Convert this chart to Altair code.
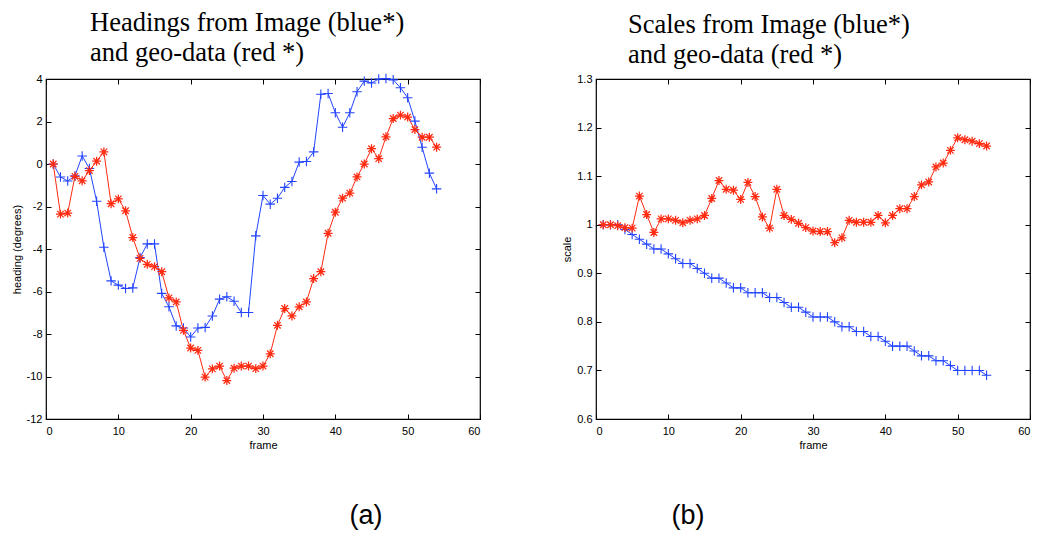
import altair as alt
import pandas as pd

frames = list(range(1, 55))

heading_image = [0.0, -0.61, -0.80, -0.56, 0.38, -0.21, -1.75, -3.92, -5.50, -5.70,
                 -5.86, -5.83, -4.40, -3.76, -3.76, -6.09, -6.72, -7.62, -7.72, -8.14,
                 -7.72, -7.69, -7.15, -6.36, -6.25, -6.46, -6.99, -6.99, -3.38, -1.48,
                 -1.89, -1.61, -1.10, -0.82, 0.09, 0.12, 0.57, 3.28, 3.32, 2.41,
                 1.73, 2.41, 3.40, 3.90, 3.81, 4.00, 4.02, 3.96, 3.59, 3.12,
                 2.02, 0.79, -0.43, -1.17]
heading_geo = [0.0, -2.36, -2.31, -0.58, -0.79, -0.31, 0.13, 0.57, -1.87, -1.64,
               -2.20, -3.46, -4.44, -4.72, -4.83, -5.07, -6.30, -6.49, -7.83, -8.66,
               -8.77, -10.03, -9.64, -9.51, -10.19, -9.61, -9.51, -9.51, -9.63, -9.51,
               -8.93, -7.59, -6.80, -7.15, -6.72, -6.49, -5.39, -5.07, -3.26, -2.27,
               -1.61, -1.37, -0.61, 0.0, 0.72, 0.25, 1.28, 2.14, 2.30, 2.21,
               1.62, 1.26, 1.26, 0.79]
scale_image = [1.00, 1.00, 1.00, 0.99, 0.98, 0.97, 0.96, 0.95, 0.95, 0.94,
               0.93, 0.92, 0.92, 0.91, 0.90, 0.89, 0.89, 0.88, 0.87, 0.87,
               0.86, 0.86, 0.86, 0.85, 0.85, 0.84, 0.83, 0.83, 0.82, 0.81,
               0.81, 0.81, 0.80, 0.79, 0.79, 0.78, 0.78, 0.77, 0.77, 0.76,
               0.75, 0.75, 0.75, 0.74, 0.73, 0.73, 0.72, 0.72, 0.71, 0.70,
               0.70, 0.70, 0.70, 0.69]
scale_geo = [1.000, 1.000, 0.998, 0.994, 0.993, 1.059, 1.021, 0.984, 1.012, 1.012,
             1.009, 1.004, 1.009, 1.012, 1.019, 1.054, 1.091, 1.073, 1.071, 1.052,
             1.087, 1.058, 1.016, 0.993, 1.073, 1.019, 1.011, 1.003, 0.994, 0.987,
             0.986, 0.986, 0.963, 0.973, 1.009, 1.005, 1.005, 1.005, 1.019, 1.004,
             1.019, 1.033, 1.033, 1.058, 1.082, 1.088, 1.119, 1.127, 1.153, 1.179,
             1.175, 1.172, 1.167, 1.162]

x_ticks = [0, 10, 20, 30, 40, 50, 60]
heading_ticks = [-12, -10, -8, -6, -4, -2, 0, 2, 4]
scale_ticks = [0.6, 0.7, 0.8, 0.9, 1.0, 1.1, 1.2, 1.3]

title_a = ["Headings from Image (blue*)", "and geo-data (red *)"]
title_b = ["Scales from Image (blue*)", "and geo-data (red *)"]

BLUE = "#2244ff"
RED = "#ff2a10"
PLUS = "M-1,0L1,0M0,-1L0,1"
STAR = "M-1,0L1,0M0,-1L0,1M-0.72,-0.72L0.72,0.72M-0.72,0.72L0.72,-0.72"

W, H = 434, 340


def panel(image_vals, geo_vals, ydomain, yticks, ytitle, title_lines, title_dx,
          tag, tag_x, label_expr):
    df = pd.DataFrame({"frame": frames, "image": image_vals, "geo": geo_vals})
    xs = alt.Scale(domain=[0, 60], nice=False, zero=False)
    ys = alt.Scale(domain=ydomain, nice=False, zero=False)

    x_main = alt.X("frame:Q", scale=xs,
                   axis=alt.Axis(orient="bottom", values=x_ticks, offset=-5, tickSize=5,
                                 domain=False, grid=False, labelPadding=6,
                                 title="frame", titlePadding=3))

    def y_main(field):
        return alt.Y(f"{field}:Q", scale=ys,
                     axis=alt.Axis(orient="left", values=yticks, offset=-5, tickSize=5,
                                   domain=False, grid=False, labelPadding=4,
                                   labelExpr=label_expr,
                                   title=ytitle, titlePadding=4))

    base = alt.Chart(df)
    blue_line = base.mark_line(color=BLUE, strokeWidth=1).encode(x=x_main, y=y_main("image"))
    blue_pts = base.mark_point(shape=PLUS, size=90, color=BLUE, strokeWidth=1.1,
                               filled=False, opacity=1).encode(x=x_main, y=y_main("image"))
    red_line = base.mark_line(color=RED, strokeWidth=1).encode(x=x_main, y=y_main("geo"))
    red_pts = base.mark_point(shape=STAR, size=80, color=RED, strokeWidth=1.25,
                              filled=False, opacity=1).encode(x=x_main, y=y_main("geo"))
    tag_layer = alt.Chart(pd.DataFrame({"t": [tag]})).mark_text(
        font="Liberation Sans", fontSize=27, align="center", baseline="middle",
        color="black").encode(x=alt.value(tag_x), y=alt.value(437), text="t:N")

    main = alt.layer(blue_line, red_line, blue_pts, red_pts, tag_layer)

    ticks = base.mark_point(opacity=0).encode(
        x=alt.X("frame:Q", scale=xs,
                axis=alt.Axis(orient="top", values=x_ticks, offset=-5, tickSize=5,
                              labels=False, domain=False, grid=False, title="")),
        y=alt.Y("image:Q", scale=ys,
                axis=alt.Axis(orient="right", values=yticks, offset=-5, tickSize=5,
                              labels=False, domain=False, grid=False, title="")),
    )

    return alt.layer(main, ticks).resolve_axis(x="independent", y="independent").properties(
        width=W, height=H,
        title=alt.Title(text=title_lines, font="Liberation Serif", fontSize=26.5,
                        fontWeight="normal", anchor="start", frame="group", dx=title_dx,
                        lineHeight=30, offset=5, color="black"))


left = panel(heading_image, heading_geo, [-12, 4], heading_ticks, "heading (degrees)",
             title_a, 44, "(a)", 320,
             "datum.value < 0 ? '-' + format(-datum.value, 'd') : format(datum.value, 'd')")
right = panel(scale_image, scale_geo, [0.6, 1.3], scale_ticks, "scale",
              title_b, 32, "(b)", 92, "format(datum.value, '~g')")

chart = alt.hconcat(left, right, spacing=79).properties(
    padding={"left": 2, "top": 1, "right": 0, "bottom": 0}
).configure_view(stroke="black", strokeWidth=1.2).configure_axis(
    labelFont="Liberation Sans", labelFontSize=11, labelColor="black",
    titleFont="Liberation Sans", titleFontSize=11, titleFontWeight="normal",
    titleColor="black", tickColor="black", tickWidth=1
)

chart.save("out.html", embed_options={"renderer": "svg", "actions": False})
